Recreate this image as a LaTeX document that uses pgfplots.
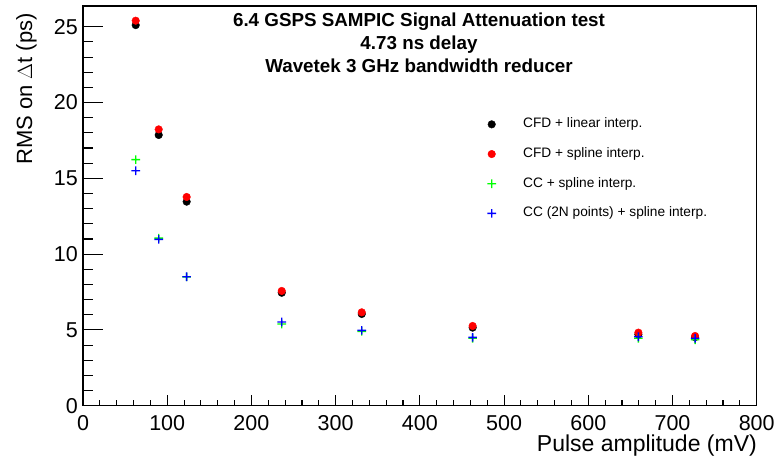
\documentclass[border=0pt]{standalone}
\usepackage{fontspec}
\setmainfont{Liberation Sans}
\usepackage{pgfplots}
\pgfplotsset{compat=1.18}
\definecolor{rootgreen}{rgb}{0,1,0}
\definecolor{rootblue}{rgb}{0,0,1}
\definecolor{rootred}{rgb}{1,0,0}
\pgfdeclareplotmark{fplus}{%
  \pgfpathrectangle{\pgfpoint{-\pgfplotmarksize}{-0.7bp}}{\pgfpoint{2\pgfplotmarksize}{1.4bp}}%
  \pgfpathrectangle{\pgfpoint{-0.7bp}{-\pgfplotmarksize}}{\pgfpoint{1.4bp}{2\pgfplotmarksize}}%
  \pgfusepathqfill}
\begin{document}
\begin{tikzpicture}
\useasboundingbox (0bp,0bp) rectangle (776bp,459bp);
\begin{axis}[
  at={(83bp,53.3bp)}, anchor=south west,
  scale only axis, width=673.7bp, height=399.7bp,
  xmin=0, xmax=800, ymin=0, ymax=26.37,
  xtick={0,100,...,800}, ytick={0,5,...,25},
  minor x tick num=4, minor y tick num=4,
  tick align=inside, xtick pos=bottom, ytick pos=left,
  axis line style={line width=1.1bp},
  every tick/.style={line width=1.1bp, black},
  xtick style={/pgfplots/major tick length=11bp, /pgfplots/minor tick length=5.5bp},
  ytick style={/pgfplots/major tick length=20bp, /pgfplots/minor tick length=10bp},
  /pgf/number format/assume math mode=true,
  tick label style={font=\fontsize{21.5bp}{22bp}\selectfont, inner sep=0pt},
  xticklabel style={anchor=north, yshift=-9.3bp},
  yticklabel style={anchor=east, xshift=-5bp},
  legend style={draw=none, fill=none, inner sep=0pt, outer sep=0pt,
    at={(0.5948,0.7198)}, anchor=north west, row sep=17bp,
    font=\fontsize{13.7bp}{14bp}\selectfont,
    nodes={inner sep=0pt, text height=9.8bp, text depth=2.9bp}},
  legend cell align=left,
  legend image code/.code={\path[draw=none, fill=none] (-8bp,-5bp) rectangle (31.5bp,5bp); \draw[#1] plot coordinates {(0bp,0bp)};},
]
\addplot[only marks, mark=*, mark size=3.8bp, color=black] coordinates {
 (62.6,25.11) (89.9,17.86) (123.1,13.46) (236,7.45) (331,6.05) (462.7,5.15) (659.5,4.70) (726.8,4.52)};
\addlegendentry{CFD + linear interp.}
\addplot[only marks, mark=*, mark size=3.8bp, color=rootred] coordinates {
 (62.6,25.40) (89.9,18.23) (123.1,13.77) (236,7.57) (331,6.16) (462.7,5.26) (659.5,4.82) (726.8,4.60)};
\addlegendentry{CFD + spline interp.}
\addplot[only marks, mark=fplus, mark size=4.3bp, color=rootgreen] coordinates {
 (62.6,16.23) (89.9,11.06) (123.1,8.50) (236,5.39) (331,4.90) (462.7,4.45) (659.5,4.45) (726.8,4.35)};
\addlegendentry{CC + spline interp.}
\addplot[only marks, mark=fplus, mark size=4.3bp, color=rootblue] coordinates {
 (62.6,15.50) (89.9,10.97) (123.1,8.51) (236,5.52) (331,4.97) (462.7,4.51) (659.5,4.55) (726.8,4.45)};
\addlegendentry{CC (2N points) + spline interp.}
\end{axis}
\node[font=\fontsize{23bp}{24bp}\selectfont, anchor=base east, inner sep=0pt] at (757bp,8bp) {Pulse amplitude (mV)};
\node[font=\fontsize{22bp}{23bp}\selectfont, rotate=90, anchor=base east, inner sep=0pt] at (32bp,446bp) {RMS on $\Delta$t (ps)};
\begin{scope}[every node/.style={font=\bfseries\fontsize{18.8bp}{20bp}\selectfont, anchor=base, inner sep=0pt}]
\node at (419bp,432.3bp) {6.4 GSPS SAMPIC Signal Attenuation test};
\node at (419bp,409bp) {4.73 ns delay};
\node at (419bp,386bp) {Wavetek 3 GHz bandwidth reducer};
\end{scope}
\end{tikzpicture}
\end{document}
